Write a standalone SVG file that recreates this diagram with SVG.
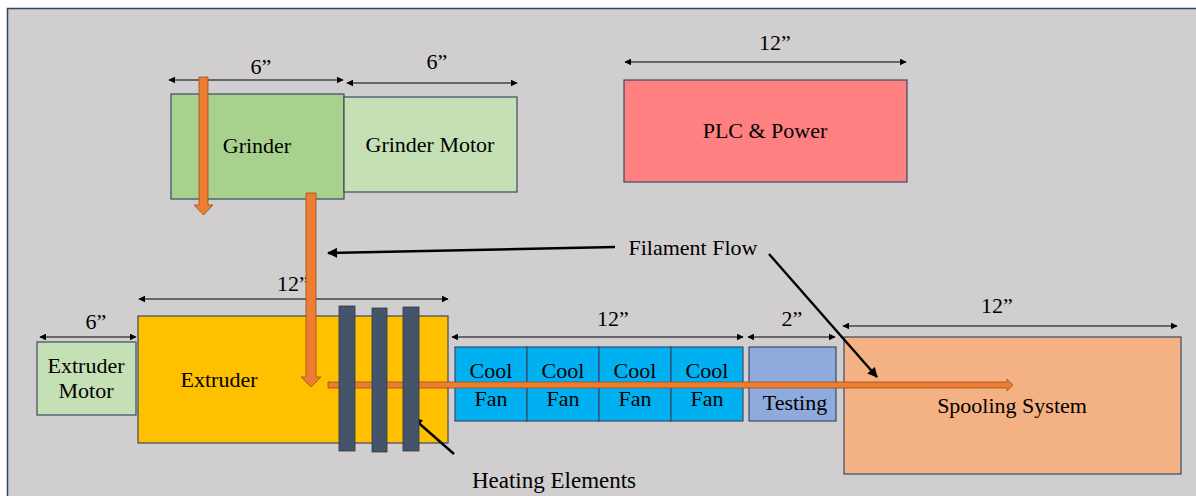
<svg xmlns="http://www.w3.org/2000/svg" width="1196" height="496" viewBox="0 0 1196 496">
<defs>
<style>
.t{font-family:"Liberation Serif","Times New Roman",serif;font-size:22px;fill:#000;text-anchor:middle}
.box{stroke:#3a4a66;stroke-width:1.2}
.dim{stroke:#000;stroke-width:1.2;fill:none;marker-start:url(#ah);marker-end:url(#ah)}
.ptr{stroke:#000;stroke-width:2.4;fill:none;marker-end:url(#ph)}
.flow{fill:#ed7d31;stroke:#9c4f1c;stroke-width:0.8}
.heat{fill:#44546a;stroke:#2f3a4a;stroke-width:0.8}
</style>
<marker id="ah" viewBox="0 0 10 10" refX="9" refY="5" markerWidth="7" markerHeight="7" markerUnits="userSpaceOnUse" orient="auto-start-reverse">
<path d="M0,0 L10,5 L0,10 Z" fill="#000"/>
</marker>
<marker id="ph" viewBox="0 0 10 10" refX="9" refY="5" markerWidth="12" markerHeight="10" markerUnits="userSpaceOnUse" orient="auto">
<path d="M0,0 L10,5 L0,10 Z" fill="#000"/>
</marker>
</defs>
<rect x="0" y="0" width="1196" height="496" fill="#ffffff"/>
<rect x="7.5" y="8.5" width="1195" height="495" fill="#d0cece" stroke="#2f4468" stroke-width="1.5"/>

<g id="grinder">
<rect class="box" x="171" y="94" width="173" height="105" fill="#a9d18e"/>
<text class="t" x="257" y="153">Grinder</text>
</g>
<g id="grinder-motor">
<rect class="box" x="344" y="97" width="173" height="95" fill="#c5e0b4"/>
<text class="t" x="430" y="152">Grinder Motor</text>
</g>
<g id="plc">
<rect class="box" x="624" y="80" width="283" height="102" fill="#ff8080"/>
<text class="t" x="765" y="138">PLC &amp; Power</text>
</g>
<g id="extruder-motor">
<rect class="box" x="37" y="342" width="99" height="73" fill="#c5e0b4"/>
<text class="t" x="86" y="373">Extruder</text>
<text class="t" x="86" y="398">Motor</text>
</g>
<g id="extruder">
<rect class="box" x="138" y="316" width="310" height="127" fill="#ffc000" stroke="#333"/>
<text class="t" x="219" y="387">Extruder</text>
</g>
<g id="cool-fans">
<rect class="box" x="455" y="347" width="72" height="74" fill="#00b0f0"/>
<rect class="box" x="527" y="347" width="72" height="74" fill="#00b0f0"/>
<rect class="box" x="599" y="347" width="72" height="74" fill="#00b0f0"/>
<rect class="box" x="671" y="347" width="72" height="74" fill="#00b0f0"/>
<text class="t" x="491" y="378">Cool</text><text class="t" x="491" y="406">Fan</text>
<text class="t" x="563" y="378">Cool</text><text class="t" x="563" y="406">Fan</text>
<text class="t" x="635" y="378">Cool</text><text class="t" x="635" y="406">Fan</text>
<text class="t" x="707" y="378">Cool</text><text class="t" x="707" y="406">Fan</text>
</g>
<g id="testing">
<rect class="box" x="749" y="347" width="87" height="74" fill="#8faadc"/>
<text class="t" x="795" y="410">Testing</text>
</g>
<g id="spooling">
<rect class="box" x="844" y="337" width="337" height="137" fill="#f4b183"/>
<text class="t" x="1012" y="413">Spooling System</text>
</g>

<g id="dimensions">
<line class="dim" x1="169" y1="80" x2="343" y2="80"/>
<text class="t" x="261" y="74">6”</text>
<line class="dim" x1="347" y1="83" x2="517" y2="83"/>
<text class="t" x="437" y="69">6”</text>
<line class="dim" x1="625" y1="62" x2="906" y2="62"/>
<text class="t" x="775" y="50">12”</text>
<text class="t" x="293" y="291">12”</text>
<line class="dim" x1="139" y1="299" x2="448" y2="299"/>
<line class="dim" x1="40" y1="337" x2="136" y2="337"/>
<text class="t" x="96" y="329">6”</text>
<line class="dim" x1="452" y1="337" x2="743" y2="337"/>
<text class="t" x="613" y="326">12”</text>
<line class="dim" x1="748" y1="337" x2="835" y2="337"/>
<text class="t" x="792" y="326">2”</text>
<line class="dim" x1="843" y1="326" x2="1177" y2="326"/>
<text class="t" x="997" y="313">12”</text>
</g>

<g id="connectors">
<path class="flow" d="M199,77 L208,77 L208,205 L213,205 L203.5,215 L194,205 L199,205 Z"/>
<path class="flow" d="M306,193 L316,193 L316,377 L321,377 L311,387 L301,377 L306,377 Z"/>
<path class="flow" d="M328,382 L1007,382 L1007,379 L1013,385 L1007,391 L1007,388 L328,388 Z"/>
<line class="ptr" x1="615" y1="247" x2="328" y2="253"/>
<line class="ptr" x1="769" y1="254" x2="877" y2="377"/>
<line class="ptr" x1="454" y1="454" x2="413" y2="418"/>
</g>

<g id="heating-elements">
<rect class="heat" x="339" y="306" width="16" height="145"/>
<rect class="heat" x="372" y="308" width="15" height="144"/>
<rect class="heat" x="403" y="307" width="16" height="144"/>
</g>

<g id="labels">
<text class="t" x="693" y="255">Filament Flow</text>
<text class="t" x="554" y="488" style="font-size:23px">Heating Elements</text>
</g>
</svg>
